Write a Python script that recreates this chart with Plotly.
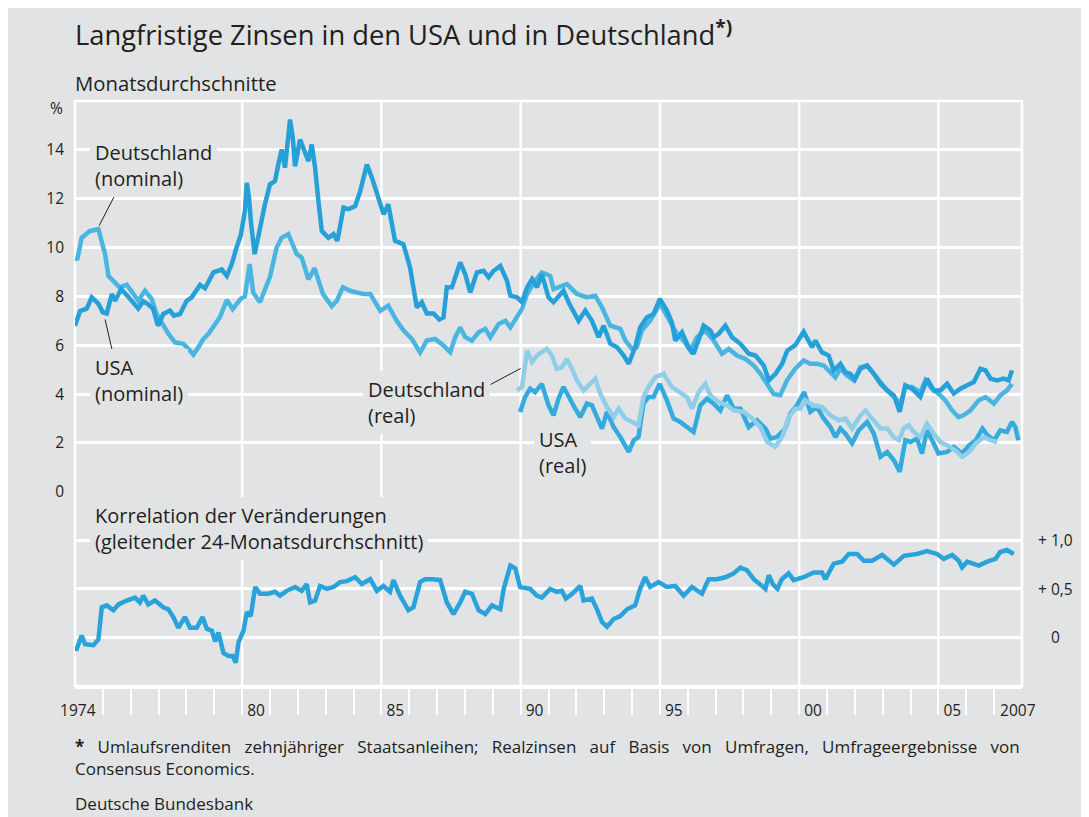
import plotly.graph_objects as go

# ---------------- data ----------------
us_nom_t = [1974.00,1974.18,1974.42,1974.60,1974.84,1975.00,1975.14,1975.32,1975.44,1975.66,1975.90,1976.10,1976.27,1976.45,1976.60,1976.80,1976.98,1977.17,1977.41,1977.55,1977.77,1978.01,1978.19,1978.49,1978.67,1978.97,1979.27,1979.45,1979.62,1979.80,1979.95,1980.10,1980.17,1980.25,1980.32,1980.45,1980.58,1980.70,1980.82,1981.00,1981.18,1981.30,1981.42,1981.54,1981.64,1981.72,1981.82,1981.90,1982.08,1982.26,1982.38,1982.50,1982.62,1982.74,1982.86,1983.10,1983.28,1983.42,1983.64,1983.82,1984.06,1984.24,1984.48,1984.66,1984.90,1985.08,1985.25,1985.49,1985.79,1986.03,1986.27,1986.45,1986.63,1986.87,1987.08,1987.23,1987.35,1987.53,1987.71,1987.83,1988.01,1988.19,1988.43,1988.67,1988.85,1989.03,1989.27,1989.51,1989.63,1989.87,1990.05,1990.23,1990.41,1990.59,1990.76,1991.00,1991.18,1991.36,1991.54,1991.72,1991.90,1992.08,1992.32,1992.56,1992.80,1992.98,1993.22,1993.46,1993.70,1993.88,1994.11,1994.29,1994.53,1994.77,1995.00,1995.25,1995.43,1995.55,1995.79,1996.03,1996.21,1996.57,1996.81,1996.93,1997.11,1997.35,1997.59,1997.89,1998.19,1998.43,1998.73,1998.91,1999.15,1999.39,1999.57,1999.86,2000.16,2000.34,2000.46,2000.58,2000.82,2001.06,2001.24,2001.48,2001.66,2001.84,2002.00,2002.20,2002.44,2002.68,2002.92,2003.16,2003.40,2003.61,2003.81,2004.05,2004.35,2004.59,2004.83,2005.07,2005.31,2005.55,2005.79,2006.03,2006.27,2006.51,2006.69,2006.87,2007.11,2007.34,2007.52,2007.64]
us_nom_v = [6.80,7.40,7.50,7.96,7.70,7.35,7.30,8.10,7.82,8.30,8.00,7.75,7.50,7.80,7.70,7.50,6.80,7.28,7.42,7.21,7.28,7.82,7.96,8.47,8.33,8.98,9.10,8.84,9.30,10.00,10.50,11.50,12.65,12.00,11.00,9.73,10.50,11.09,11.77,12.59,12.72,13.40,14.02,13.27,14.40,15.24,14.50,13.33,14.42,13.81,13.54,14.22,13.27,11.90,10.68,10.40,10.55,10.27,11.63,11.57,11.70,12.31,13.40,12.86,12.04,11.36,11.77,10.27,10.14,9.18,7.55,7.76,7.30,7.30,7.05,7.14,8.37,8.37,8.98,9.39,8.91,8.16,8.98,9.05,8.78,9.05,9.25,8.64,8.03,7.96,7.76,8.37,8.71,8.37,8.91,7.96,7.76,8.03,8.23,7.76,7.42,7.00,7.42,7.00,6.33,6.80,6.06,5.92,5.58,5.24,5.92,6.73,7.14,7.28,7.90,7.42,6.94,6.19,6.53,5.92,5.65,6.80,6.60,6.33,6.47,6.80,6.33,6.06,5.65,5.58,5.17,4.56,4.83,5.24,5.78,6.00,6.55,6.19,5.92,6.19,5.71,5.58,4.97,5.24,4.90,4.83,4.60,5.04,5.17,4.83,4.42,4.15,3.95,3.27,4.36,4.22,3.88,4.63,4.15,4.15,4.42,4.02,4.22,4.36,4.49,5.04,4.97,4.63,4.56,4.63,4.56,4.97]

de_nom_t = [1974.00,1974.08,1974.24,1974.54,1974.84,1975.08,1975.20,1975.38,1975.60,1975.86,1976.10,1976.27,1976.51,1976.75,1976.93,1977.11,1977.35,1977.59,1977.89,1978.07,1978.25,1978.43,1978.61,1978.79,1979.03,1979.20,1979.45,1979.66,1979.95,1980.10,1980.27,1980.40,1980.64,1981.00,1981.24,1981.42,1981.66,1981.96,1982.14,1982.38,1982.60,1982.90,1983.22,1983.40,1983.62,1983.88,1984.12,1984.36,1984.60,1984.96,1985.25,1985.55,1985.80,1986.10,1986.39,1986.63,1986.93,1987.23,1987.47,1987.65,1987.83,1988.01,1988.25,1988.49,1988.73,1988.91,1989.21,1989.45,1989.63,1989.87,1990.05,1990.23,1990.52,1990.76,1991.06,1991.18,1991.66,1992.02,1992.38,1992.68,1992.92,1993.22,1993.58,1993.76,1994.00,1994.17,1994.35,1994.65,1995.01,1995.31,1995.61,1995.85,1996.09,1996.33,1996.63,1996.93,1997.23,1997.47,1997.77,1998.07,1998.37,1998.61,1998.85,1999.08,1999.32,1999.56,1999.86,2000.16,2000.40,2000.64,2000.88,2001.12,2001.30,2001.48,2001.72,2001.96,2002.20,2002.44,2002.68,2002.92,2003.16,2003.46,2003.64,2003.81,2004.05,2004.35,2004.53,2004.77,2005.00,2005.25,2005.49,2005.72,2005.90,2006.15,2006.44,2006.69,2006.99,2007.22,2007.46,2007.64]
de_nom_v = [9.59,9.50,10.40,10.68,10.75,9.73,8.84,8.64,8.37,8.48,8.10,7.82,8.23,7.90,7.28,6.94,6.47,6.12,6.06,5.85,5.62,5.92,6.26,6.47,6.87,7.14,7.85,7.48,7.90,8.00,9.32,8.15,7.76,8.80,10.00,10.40,10.55,9.73,9.59,8.70,9.15,8.10,7.60,7.82,8.37,8.23,8.16,8.10,8.10,7.41,7.62,7.00,6.60,6.25,5.70,6.19,6.26,5.99,5.71,6.33,6.73,6.33,6.19,6.53,6.67,6.33,6.87,7.00,6.73,7.21,7.49,8.10,8.64,8.98,8.84,8.30,8.50,8.10,7.96,8.03,7.55,6.80,6.67,6.19,5.85,5.92,6.60,7.00,7.70,7.08,6.47,6.19,5.78,6.33,6.60,6.19,5.65,5.85,5.58,5.44,5.17,4.83,4.42,4.00,3.95,4.56,5.04,5.38,5.24,5.24,5.17,4.90,4.69,5.04,4.76,4.56,5.10,5.17,4.83,4.42,4.15,3.81,3.61,4.29,4.29,4.08,4.56,4.22,4.02,3.74,3.33,3.06,3.13,3.33,3.74,3.88,3.61,3.95,4.15,4.42]

de_real_t = [1989.87,1990.05,1990.23,1990.41,1990.59,1990.76,1990.94,1991.12,1991.30,1991.48,1991.66,1991.84,1992.02,1992.26,1992.44,1992.68,1992.86,1993.10,1993.34,1993.52,1993.76,1994.00,1994.23,1994.41,1994.59,1994.83,1995.13,1995.43,1995.73,1995.97,1996.15,1996.39,1996.63,1996.81,1997.11,1997.41,1997.65,1998.01,1998.31,1998.61,1998.85,1999.14,1999.39,1999.62,1999.86,2000.04,2000.22,2000.52,2000.82,2001.12,2001.42,2001.66,2001.90,2002.20,2002.38,2002.68,2002.92,2003.16,2003.40,2003.58,2003.75,2003.93,2004.11,2004.35,2004.59,2004.83,2005.07,2005.31,2005.61,2005.85,2006.10,2006.34,2006.64,2006.87,2007.11]
de_real_v = [4.15,4.29,5.78,5.31,5.58,5.71,5.85,5.58,5.04,5.10,5.44,5.04,4.56,4.15,4.36,4.63,4.02,3.47,3.06,3.40,3.00,2.86,2.72,3.88,4.29,4.69,4.83,4.29,4.08,3.88,3.40,4.08,4.42,3.95,3.67,3.54,3.33,3.27,3.00,2.65,2.04,1.84,2.24,3.06,3.40,3.40,3.74,3.54,3.47,3.13,2.93,3.00,2.59,3.13,3.33,2.93,2.59,2.59,2.24,2.11,2.59,2.72,2.45,2.24,2.79,2.38,2.04,1.90,1.70,1.43,1.63,1.98,2.24,2.11,2.04]

us_real_t = [1989.98,1990.16,1990.34,1990.52,1990.76,1991.00,1991.18,1991.36,1991.54,1991.78,1991.96,1992.14,1992.38,1992.56,1992.74,1992.92,1993.10,1993.34,1993.58,1993.88,1994.06,1994.23,1994.41,1994.59,1994.77,1994.99,1995.25,1995.49,1995.73,1995.97,1996.21,1996.45,1996.69,1996.93,1997.17,1997.41,1997.65,1997.89,1998.19,1998.49,1998.79,1998.97,1999.20,1999.50,1999.68,1999.92,2000.18,2000.40,2000.64,2000.88,2001.12,2001.30,2001.48,2001.66,2001.90,2002.14,2002.44,2002.68,2002.92,2003.16,2003.40,2003.61,2003.81,2004.00,2004.23,2004.41,2004.59,2004.83,2005.00,2005.31,2005.55,2005.85,2006.10,2006.34,2006.58,2006.76,2007.00,2007.22,2007.46,2007.64,2007.76,2007.87]
us_real_v = [3.27,3.88,4.22,4.08,4.42,3.54,3.13,3.81,4.29,3.74,3.40,3.06,3.61,3.54,3.06,2.59,3.27,2.65,2.24,1.63,2.11,2.24,3.61,3.88,3.88,4.42,3.74,3.00,2.86,2.65,2.45,3.54,3.81,3.61,3.33,3.95,3.40,3.40,2.65,2.93,2.59,2.18,2.24,2.59,3.20,3.54,4.08,3.27,3.47,3.00,2.65,2.24,2.59,2.38,1.98,2.52,2.86,2.38,1.43,1.63,1.29,0.82,2.11,2.04,2.18,1.57,2.52,1.98,1.57,1.63,1.84,1.57,1.90,2.11,2.59,2.31,2.11,2.52,2.45,2.86,2.65,2.11]

corr_t = [1974.00,1974.06,1974.24,1974.36,1974.66,1974.84,1974.96,1975.14,1975.38,1975.56,1975.86,1976.16,1976.33,1976.45,1976.63,1976.87,1977.17,1977.35,1977.53,1977.71,1977.95,1978.13,1978.37,1978.58,1978.73,1978.91,1979.03,1979.15,1979.33,1979.51,1979.66,1979.77,1979.87,1980.05,1980.17,1980.31,1980.47,1980.64,1980.94,1981.18,1981.36,1981.60,1981.90,1982.14,1982.32,1982.44,1982.62,1982.80,1983.04,1983.28,1983.52,1983.76,1984.06,1984.30,1984.60,1984.84,1985.07,1985.31,1985.43,1985.67,1985.97,1986.15,1986.39,1986.57,1986.85,1987.11,1987.35,1987.59,1987.83,1988.01,1988.25,1988.49,1988.73,1988.97,1989.27,1989.39,1989.63,1989.81,1989.98,1990.34,1990.58,1990.76,1991.06,1991.30,1991.48,1991.62,1991.85,1992.14,1992.26,1992.56,1992.74,1992.92,1993.10,1993.34,1993.58,1993.82,1994.11,1994.29,1994.47,1994.65,1994.95,1995.25,1995.55,1995.85,1996.15,1996.51,1996.75,1997.05,1997.35,1997.65,1997.89,1998.13,1998.37,1998.61,1998.79,1998.91,1999.05,1999.22,1999.38,1999.62,1999.80,2000.16,2000.52,2000.82,2000.94,2001.24,2001.54,2001.78,2002.08,2002.32,2002.62,2002.98,2003.40,2003.76,2004.23,2004.59,2004.95,2005.19,2005.49,2005.73,2005.85,2006.03,2006.45,2006.75,2007.05,2007.22,2007.46,2007.70]
corr_v = [-0.12,-0.12,0.02,-0.07,-0.08,-0.02,0.31,0.33,0.28,0.34,0.38,0.41,0.36,0.43,0.34,0.38,0.31,0.29,0.21,0.10,0.21,0.10,0.10,0.21,0.09,0.07,-0.04,0.05,-0.16,-0.19,-0.19,-0.26,-0.05,0.07,0.26,0.22,0.52,0.45,0.45,0.47,0.43,0.48,0.52,0.48,0.55,0.36,0.38,0.53,0.50,0.52,0.57,0.58,0.62,0.55,0.60,0.48,0.53,0.47,0.59,0.43,0.28,0.31,0.57,0.60,0.60,0.59,0.36,0.24,0.36,0.47,0.45,0.28,0.24,0.33,0.29,0.50,0.74,0.71,0.52,0.50,0.43,0.41,0.50,0.47,0.48,0.40,0.45,0.53,0.38,0.40,0.29,0.16,0.11,0.19,0.22,0.29,0.33,0.50,0.62,0.52,0.57,0.52,0.53,0.43,0.52,0.45,0.60,0.60,0.62,0.66,0.72,0.69,0.60,0.55,0.50,0.64,0.55,0.50,0.60,0.66,0.59,0.62,0.67,0.67,0.60,0.76,0.78,0.86,0.86,0.79,0.79,0.85,0.75,0.84,0.86,0.89,0.86,0.81,0.85,0.79,0.72,0.78,0.74,0.78,0.81,0.88,0.90,0.86]

x_tick_years = [1974, 1980, 1985, 1990, 1995, 2000, 2005, 2007]
x_tick_labels = ["1974", "80", "85", "90", "95", "00", "05", "2007"]
x_grid_years = [1980, 1985, 1990, 1995, 2000, 2005]
y_ticks = [0, 2, 4, 6, 8, 10, 12, 14]
y_tick_labels = ["0", "2", "4", "6", "8", "10", "12", "14"]
corr_ticks = [0, 0.5, 1.0]
corr_tick_labels = ["0", "+ 0,5", "+ 1,0"]

# ---------------- layout helpers ----------------
# the page body adds an 8 px margin; the figure fills the rest of the window
OFF = 8
W, H = 1081, 809
L, R, T, B = 67, 67, 93, 131
PW, PH = W - L - R, H - T - B
def px(x):  # window x (pixels) -> paper x
    return (x - OFF - L) / PW
def py(y):  # window y (pixels) -> paper y
    return (H - B - (y - OFF)) / PH

BG = "#e2e3e4"
TXT = "#231f20"
FONT = "Open Sans"
split = 0.332

fig = go.Figure()

def add_line(t, v, color, yaxis="y", width=4.5):
    fig.add_trace(go.Scatter(x=t, y=v, mode="lines", xaxis="x", yaxis=yaxis,
                             line=dict(color=color, width=width),
                             hoverinfo="skip", showlegend=False))

add_line(us_real_t, us_real_v, "#35aadd")
add_line(de_real_t, de_real_v, "#8fcde8")
add_line(de_nom_t, de_nom_v, "#4ab5e1")
add_line(us_nom_t, us_nom_v, "#25a0d9")
add_line(corr_t, corr_v, "#2aa3db", yaxis="y2")

label_pos = [yr + 0.5 for yr in x_tick_years]
label_pos[0] = x_tick_years[0] + 0.1
label_pos[-1] = x_tick_years[-1] + 0.85

fig.update_layout(
    width=W, height=H,
    margin=dict(l=L, r=R, t=T, b=B, pad=0),
    paper_bgcolor=BG, plot_bgcolor=BG,
    font=dict(family=FONT, color=TXT, size=15.5),
    showlegend=False,
    xaxis=dict(range=[1974, 2008], domain=[0, 1], anchor="y2",
               tickmode="array", tickvals=label_pos, ticktext=x_tick_labels,
               ticks="", showgrid=False, zeroline=False,
               showline=True, linecolor="white", linewidth=2.5,
               ticklabelstandoff=9,
               tickfont=dict(size=15.5, color=TXT),
               minor=dict(tickmode="array", tickvals=list(range(1975, 2008)),
                          ticks="outside", ticklen=26, tickwidth=2,
                          tickcolor="white", showgrid=False)),
    yaxis=dict(domain=[split, 1], range=[0, 16], anchor="x",
               tickmode="array", tickvals=y_ticks, ticktext=y_tick_labels,
               ticks="", showgrid=True, gridcolor="white", gridwidth=2.5,
               zeroline=False, showline=False, ticklabelstandoff=10,
               tickfont=dict(size=15.5, color=TXT)),
    yaxis2=dict(domain=[0, split], range=[-0.5, 1.5], anchor="x",
                tickmode="array", tickvals=corr_ticks, showticklabels=False,
                ticks="", showgrid=True, gridcolor="white", gridwidth=2.5,
                zeroline=False, showline=False),
)

shapes = []
for yr in x_grid_years:
    shapes.append(dict(type="line", xref="x", yref="paper", x0=yr, x1=yr, y0=0, y1=1,
                       line=dict(color="white", width=2.5), layer="below"))
shapes.append(dict(type="rect", xref="paper", yref="paper", x0=0, x1=1, y0=0, y1=1,
                   line=dict(color="white", width=2.5), layer="below"))

# leader lines: anchored on the data lines, drawn with pixel offsets
def leader(x, y, dx, dy):
    shapes.append(dict(type="line", xref="x", yref="y",
                       xsizemode="pixel", xanchor=x, x0=0, x1=dx,
                       ysizemode="pixel", yanchor=y, y0=0, y1=dy,
                       line=dict(color=TXT, width=1), layer="above"))
leader(1974.87, 10.9, 17, 33)
leader(1975.08, 7.05, 9, -39)
leader(1990.0, 5.05, -30, -16)
fig.update_layout(shapes=shapes)

ann = []
def text(x, y, s, size, xanchor="left", yanchor="middle", bg=None, pad=0, align="left"):
    ann.append(dict(x=x, y=y, xref="paper", yref="paper", text=s, showarrow=False,
                    xanchor=xanchor, yanchor=yanchor, align=align,
                    font=dict(family=FONT, size=size, color=TXT),
                    bgcolor=bg if bg else "rgba(0,0,0,0)", borderpad=pad, borderwidth=0))

text(px(75), py(34), "Langfristige Zinsen in den USA und in Deutschland<sup><b>*)</b></sup>", 27.3)
text(px(75), py(83), "Monatsdurchschnitte", 20.3)
text(px(56), py(108), "%", 15.5, xanchor="center")

text(px(90), py(165), "Deutschland<br>(nominal)", 20, bg=BG, pad=5)
text(px(90), py(380), "USA<br>(nominal)", 20, bg=BG, pad=5)
text(px(363), py(403), "Deutschland<br>(real)", 20, bg=BG, pad=5)
text(px(534), py(452), "USA<br>(real)", 20, bg=BG, pad=5)
text(px(90), py(528), "Korrelation der Veränderungen<br>(gleitender 24-Monatsdurchschnitt)", 20, bg=BG, pad=5)

for v, s in zip(corr_ticks, corr_tick_labels):
    ann.append(dict(x=px(1055), y=v, xref="paper", yref="y2", text=s, showarrow=False,
                    xanchor="center", yanchor="middle",
                    font=dict(family=FONT, size=15.5, color=TXT)))

# footnote: first line is justified to the full plot width in the reference
gap = " " + "\u00a0" * 2
foot1 = gap.join(["<b>*</b>", "Umlaufsrenditen", "zehnjähriger", "Staatsanleihen;", "Realzinsen",
                  "auf", "Basis", "von", "Umfragen,", "Umfrageergebnisse", "von"])
text(px(75), py(757), foot1 + "<br>Consensus Economics.", 17)
text(px(75), py(803), "Deutsche Bundesbank", 17)

fig.update_layout(annotations=ann)
fig.write_html("out.html")
